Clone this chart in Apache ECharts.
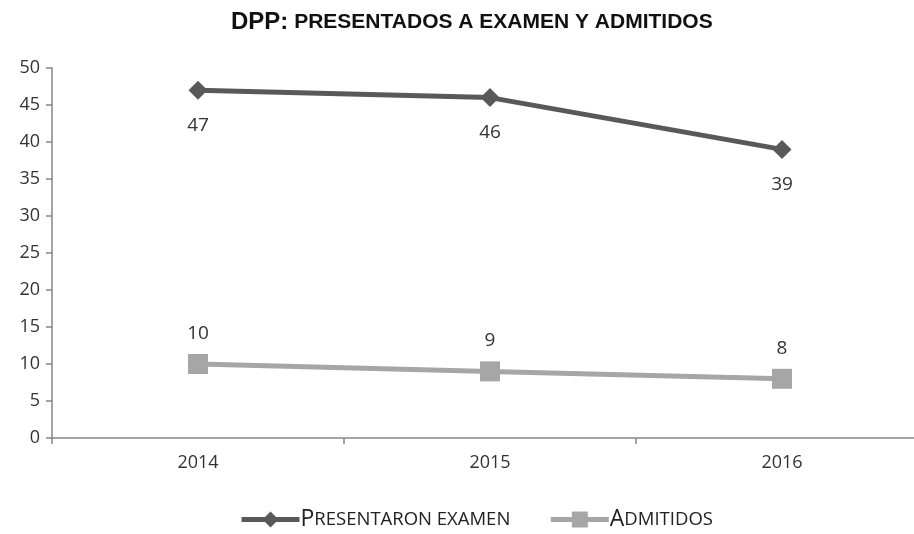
<!DOCTYPE html>
<html>
<head>
<meta charset="utf-8">
<script src="https://cdn.jsdelivr.net/npm/echarts@6/dist/echarts.min.js"></script>
<style>html,body{margin:0;padding:0;background:#fff;}#c{width:914px;height:534px;}</style>
</head>
<body>
<div id="c"></div>
<script>
const categories = ['2014', '2015', '2016'];
const presentaron = [47, 46, 39];
const admitidos = [10, 9, 8];
const seriesNames = ['Presentaron examen', 'Admitidos'];
const yTicks = { min: 0, max: 50, interval: 5 };

const chart = echarts.init(document.getElementById('c'));
const labelFont = 'Open Sans, Liberation Sans, sans-serif';
function smallCaps(s) {
  const up = s.toUpperCase();
  return '{a|' + up[0] + '}{b|' + up.slice(1) + '}';
}
chart.setOption({
  animation: false,
  backgroundColor: '#fff',
  title: {
    text: '{a|DPP:}{b| PRESENTADOS A EXAMEN Y ADMITIDOS}',
    left: 226,
    top: 5,
    textStyle: {
      rich: {
        a: { fontFamily: 'Liberation Sans, Arial, sans-serif', fontWeight: 'bold', fontSize: 24, color: '#111' },
        b: { fontFamily: 'Liberation Sans, Arial, sans-serif', fontWeight: 'bold', fontSize: 21, color: '#111' }
      }
    }
  },
  legend: {
    bottom: -2,
    left: 234,
    itemGap: 38,
    itemWidth: 58,
    itemHeight: 20,
    data: seriesNames,
    formatter: smallCaps,
    lineStyle: { width: 5 },
    textStyle: {
      padding: [0, 0, 0, -4],
      rich: {
        a: { fontFamily: labelFont, fontSize: 23, color: '#222' },
        b: { fontFamily: labelFont, fontSize: 18.5, color: '#222' }
      }
    }
  },
  grid: { left: 52, right: -14, top: 68, bottom: 96, outerBoundsMode: 'none' },
  xAxis: {
    type: 'category',
    data: categories,
    axisLine: { lineStyle: { color: '#868686', width: 1.5 } },
    axisTick: { show: true, length: 6, lineStyle: { color: '#868686', width: 1.5 } },
    axisLabel: { fontFamily: labelFont, fontSize: 18, color: '#333', margin: 16 }
  },
  yAxis: {
    type: 'value',
    min: yTicks.min, max: yTicks.max, interval: yTicks.interval,
    axisLine: { show: true, lineStyle: { color: '#868686', width: 1.5 } },
    axisTick: { show: true, length: 6, lineStyle: { color: '#868686', width: 1.5 } },
    splitLine: { show: false },
    axisLabel: { fontFamily: labelFont, fontSize: 18, color: '#333', margin: 12 }
  },
  series: [
    {
      name: seriesNames[0],
      type: 'line',
      data: presentaron,
      symbol: 'diamond',
      symbolSize: 19,
      itemStyle: { color: '#595959' },
      lineStyle: { color: '#595959', width: 5 },
      label: { show: true, position: 'bottom', distance: 16, fontFamily: labelFont, fontSize: 19, color: '#333' }
    },
    {
      name: seriesNames[1],
      type: 'line',
      data: admitidos,
      symbol: 'rect',
      symbolSize: 20,
      itemStyle: { color: '#a6a6a6' },
      lineStyle: { color: '#a6a6a6', width: 5 },
      label: { show: true, position: 'top', distance: 11, fontFamily: labelFont, fontSize: 19, color: '#333' }
    }
  ]
});
</script>
</body>
</html>
